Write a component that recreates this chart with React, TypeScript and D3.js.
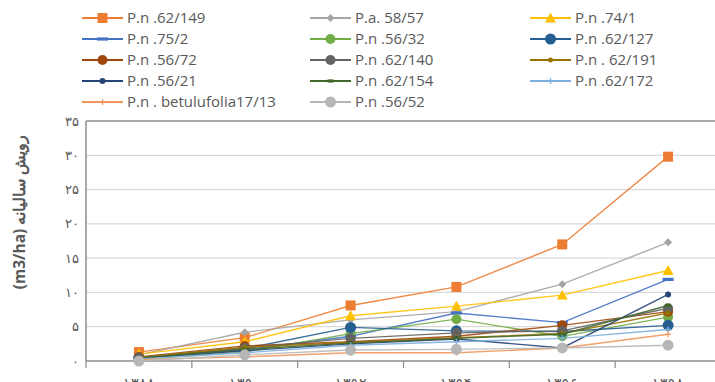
import React from "react";
import * as d3 from "d3";

// Annual increment of clones over six measurement years
const years = ["۱۳۸۸", "۱۳۹۰", "۱۳۹۲", "۱۳۹۴", "۱۳۹۶", "۱۳۹۸"];
const yTicks = [0, 5, 10, 15, 20, 25, 30, 35];

const seriesNames = [
  "P.n .62/149", "P.a. 58/57", "P.n .74/1",
  "P.n .75/2", "P.n .56/32", "P.n .62/127",
  "P.n .56/72", "P.n .62/140", "P.n . 62/191",
  "P.n .56/21", "P.n .62/154", "P.n .62/172",
  "P.n . betulufolia17/13", "P.n .56/52",
];

const v62_149 = [1.3, 3.4, 8.1, 10.8, 17.0, 29.8];
const v58_57 = [0.9, 4.2, 6.0, 7.2, 11.2, 17.3];
const v74_1 = [1.0, 2.8, 6.6, 8.0, 9.6, 13.2];
const v75_2 = [0.5, 1.6, 3.6, 7.0, 5.6, 11.9];
const v56_32 = [0.3, 1.3, 4.0, 6.1, 3.6, 6.4];
const v62_127 = [0.4, 1.8, 4.9, 4.4, 4.3, 5.2];
const v56_72 = [0.6, 2.2, 2.8, 3.6, 5.2, 7.2];
const v62_140 = [0.5, 1.9, 3.3, 4.1, 4.4, 7.7];
const v62_191 = [0.5, 2.0, 2.7, 3.4, 4.0, 7.0];
const v56_21 = [0.4, 1.5, 2.5, 3.2, 1.9, 9.7];
const v62_154 = [0.4, 1.7, 2.6, 3.3, 3.9, 8.1];
const v62_172 = [0.3, 1.2, 2.3, 2.8, 3.3, 4.6];
const vBetulifolia = [0.2, 0.6, 1.2, 1.2, 1.9, 3.9];
const v56_52 = [0.0, 0.9, 1.6, 1.7, 1.9, 2.3];

const seriesValues = [
  v62_149, v58_57, v74_1, v75_2, v56_32, v62_127, v56_72,
  v62_140, v62_191, v56_21, v62_154, v62_172, vBetulifolia, v56_52,
];

type Marker = "square" | "diamond" | "triangle" | "dash" | "circle" | "dot" | "plus";
const styles: { color: string; marker: Marker; size: number }[] = [
  { color: "#ED7D31", marker: "square", size: 10 },
  { color: "#A5A5A5", marker: "diamond", size: 8 },
  { color: "#FFC000", marker: "triangle", size: 11 },
  { color: "#4472C4", marker: "dash", size: 11 },
  { color: "#70AD47", marker: "circle", size: 10 },
  { color: "#255E91", marker: "circle", size: 11 },
  { color: "#9E480E", marker: "circle", size: 10 },
  { color: "#636363", marker: "circle", size: 10 },
  { color: "#997300", marker: "dot", size: 5 },
  { color: "#264478", marker: "dot", size: 6 },
  { color: "#43682B", marker: "dash", size: 6 },
  { color: "#7CAFDD", marker: "plus", size: 6 },
  { color: "#F1975A", marker: "plus", size: 6 },
  { color: "#B7B7B7", marker: "circle", size: 11 },
];

const W = 715;
const H = 382;
const plot = { left: 86, top: 121, right: 721, bottom: 361 };
const FONT = "'Open Sans', 'Noto Sans', sans-serif";

const toPersian = (n: number) =>
  String(n).replace(/\d/g, (d) => "۰۱۲۳۴۵۶۷۸۹"[+d]);

function MarkerShape({ m, x, y, color, size }: { m: Marker; x: number; y: number; color: string; size: number }) {
  const h = size / 2;
  switch (m) {
    case "square":
      return <rect x={x - h} y={y - h} width={size} height={size} fill={color} />;
    case "diamond":
      return <path d={`M${x},${y - h}L${x + h},${y}L${x},${y + h}L${x - h},${y}Z`} fill={color} />;
    case "triangle":
      return <path d={`M${x},${y - h}L${x + h},${y + h * 0.8}L${x - h},${y + h * 0.8}Z`} fill={color} />;
    case "dash":
      return <rect x={x - h} y={y - 1.6} width={size} height={3.2} fill={color} />;
    case "plus":
      return (
        <g stroke={color} strokeWidth={1.3}>
          <line x1={x - h} x2={x + h} y1={y} y2={y} />
          <line x1={x} x2={x} y1={y - h} y2={y + h} />
        </g>
      );
    default:
      return <circle cx={x} cy={y} r={h} fill={color} />;
  }
}

export default function App() {
  const x = d3.scaleBand<string>().domain(years).range([plot.left, plot.right]);
  const y = d3.scaleLinear().domain([0, 35]).range([plot.bottom, plot.top]);
  const cx = (c: string) => (x(c) ?? 0) + x.bandwidth() / 2;
  const line = d3
    .line<number>()
    .x((_, i) => cx(years[i]))
    .y((d) => y(d));

  const legendCols = [82, 310, 530];
  const legendRows = [18, 39, 60, 81, 102];

  return (
    <svg
      width={W}
      height={H}
      style={{ position: "fixed", left: 0, top: 0, background: "#fff" }}
      fontFamily={FONT}
    >
      {/* gridlines */}
      {yTicks.slice(1, -1).map((t) => (
        <line key={t} x1={plot.left} x2={plot.right} y1={y(t)} y2={y(t)} stroke="#d9d9d9" strokeWidth={1.2} />
      ))}
      {/* plot frame */}
      <line x1={plot.left} x2={plot.right} y1={plot.top} y2={plot.top} stroke="#8c8c8c" strokeWidth={1.5} />
      <line x1={plot.left} x2={plot.left} y1={plot.top} y2={plot.bottom} stroke="#8c8c8c" strokeWidth={1.5} />
      <line x1={plot.left} x2={plot.right} y1={plot.bottom} y2={plot.bottom} stroke="#8c8c8c" strokeWidth={1.3} />
      {/* x ticks at category boundaries */}
      {years.map((c) => (
        <line key={c} x1={x(c)} x2={x(c)} y1={plot.bottom} y2={plot.bottom + 7} stroke="#8c8c8c" strokeWidth={1.2} />
      ))}
      {/* y tick labels */}
      {yTicks.map((t) => (
        <text key={t} x={79} y={y(t)} dy="0.35em" textAnchor="end" fontSize={13} fill="#595959">
          {toPersian(t)}
        </text>
      ))}
      {/* x tick labels */}
      {years.map((c) => (
        <text key={c} x={cx(c)} y={388} textAnchor="middle" fontSize={14} fill="#595959">
          {c}
        </text>
      ))}
      {/* y axis title */}
      <text
        transform={`translate(20,212) rotate(-90)`}
        textAnchor="middle"
        dy="0.35em"
        fontSize={15.5}
        fontWeight="bold"
        fill="#595959"
      >
        (m3/ha) رویش سالیانه
      </text>
      {/* series */}
      {seriesValues.map((vals, si) => (
        <g key={si}>
          <path d={line(vals) ?? ""} fill="none" stroke={styles[si].color} strokeWidth={1.4} strokeOpacity={0.9} />
          {vals.map((v, i) => (
            <MarkerShape key={i} m={styles[si].marker} x={cx(years[i])} y={y(v)} color={styles[si].color} size={styles[si].size} />
          ))}
        </g>
      ))}
      {/* legend, three columns */}
      {seriesNames.map((name, si) => {
        const lx = legendCols[si % 3];
        const ly = legendRows[Math.floor(si / 3)];
        const st = styles[si];
        return (
          <g key={si}>
            <line x1={lx} x2={lx + 41} y1={ly} y2={ly} stroke={st.color} strokeWidth={1.8} />
            <MarkerShape m={st.marker} x={lx + 20.5} y={ly} color={st.color} size={st.size} />
            <text x={lx + 45} y={ly} dy="0.35em" fontSize={15} fill="#595959">
              {name}
            </text>
          </g>
        );
      })}
    </svg>
  );
}
